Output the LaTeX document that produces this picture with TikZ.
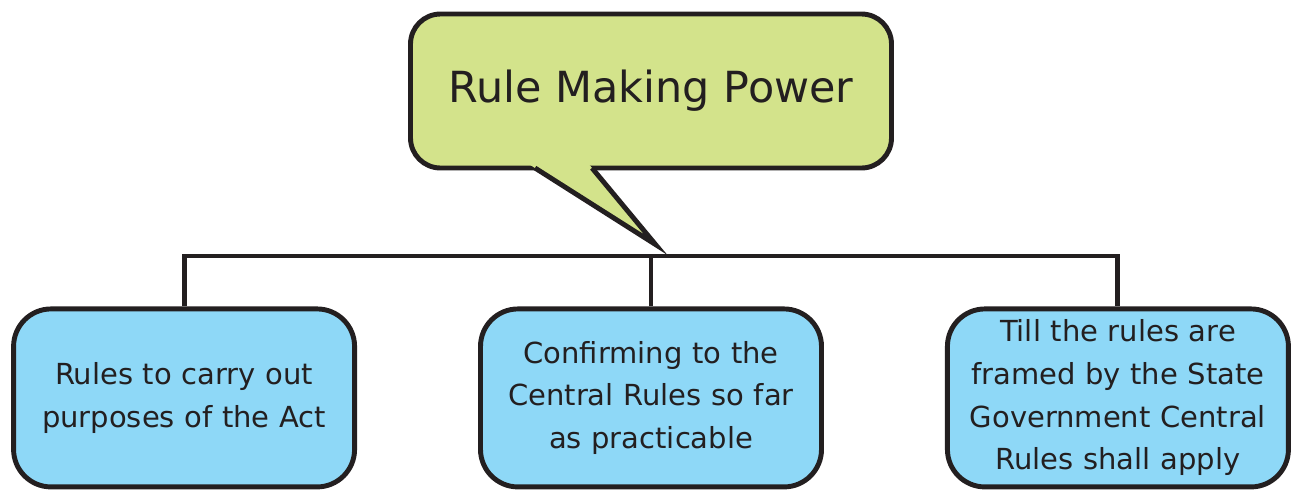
\documentclass[tikz,border=0pt]{standalone}
\usepackage{fontspec}
\setmainfont{DejaVu Sans}
\usetikzlibrary{positioning, calc}
\definecolor{bubblegreen}{RGB}{211,227,139}
\definecolor{leafblue}{RGB}{142,216,247}
\definecolor{inkgray}{RGB}{35,31,32}

\begin{document}
\begin{tikzpicture}[
    node distance=2.42cm,
    every node/.style={draw=inkgray, line width=2.8pt, rectangle, text=inkgray, align=center},
    bubble/.style={fill=bubblegreen, rounded corners=0.6cm, minimum width=9.62cm, minimum height=3.08cm, font=\fontsize{24.4}{28}\selectfont},
    leaf/.style={fill=leafblue, rounded corners=0.75cm, minimum width=6.82cm, minimum height=3.56cm, text width=6.5cm, font=\fontsize{16.5}{24.3}\selectfont},
    link/.style={draw=inkgray, line width=2.8pt}
]
\useasboundingbox (0,0) rectangle (25.98,-9.78);

\node[bubble] (rmp) at (13.02,-1.82) {Rule Making Power};
\node[leaf, below=2.72cm of rmp] (central) {Confirming to the\\Central Rules so far\\as practicable};
\node[leaf, left=of central] (acts) {Rules to carry out\\purposes of the Act};
\node[leaf, right=of central] (state) {Till the rules are\\framed by the State\\Government Central\\Rules shall apply};

% tree lines
\coordinate (join) at (13.02,-5.12);
\draw[link] (acts.north) |- (join) -| (state.north);
\draw[link] (join) -- (central.north);

% speech tail
\coordinate (ta) at (10.70,-3.36);
\coordinate (tb) at (11.84,-3.36);
\coordinate (tip) at (13.11,-4.89);
\fill[bubblegreen] ($(tip)!1.07!(ta)$) -- (tip) -- ($(tip)!1.07!(tb)$) -- cycle;
\draw[link] (ta) -- (tip) -- (tb);
\end{tikzpicture}
\end{document}
